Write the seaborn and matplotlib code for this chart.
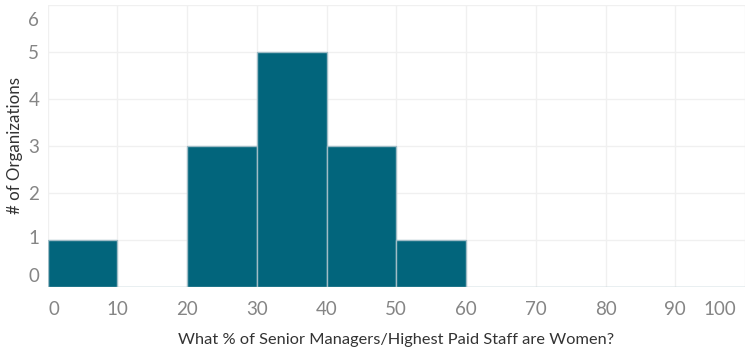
import numpy as np
import matplotlib
matplotlib.use('Agg')
import matplotlib.pyplot as plt
import matplotlib.transforms as mtransforms
import seaborn as sns

# histogram bins (% of senior managers who are women) and organization counts
bin_edges = [0, 10, 20, 30, 40, 50, 60, 70, 80, 90, 100]
counts = [1, 0, 3, 5, 3, 1, 0, 0, 0, 0]
x_ticks = [0, 10, 20, 30, 40, 50, 60, 70, 80, 90, 100]
y_ticks = [0, 1, 2, 3, 4, 5, 6]

bin_centers = [(a + b) / 2 for a, b in zip(bin_edges[:-1], bin_edges[1:])]

sns.set_style('white')
plt.rcParams['font.family'] = ['Lato', 'DejaVu Sans']

fig = plt.figure(figsize=(7.46, 3.52), dpi=100)
ax = fig.add_axes([47.5 / 746, 1 - 287 / 352, (745 - 47.5) / 746, (287 - 5) / 352])

sns.histplot(x=bin_centers, weights=counts, bins=bin_edges, ax=ax,
             color='#02657c', alpha=1, edgecolor='#9fbcc6', linewidth=1)

ax.set_xlim(0, 100)
ax.set_ylim(0, 6)
ax.set_xticks(x_ticks)
ax.set_yticks(y_ticks)
ax.set_axisbelow(True)
ax.grid(True, color='#f0f0f0', linewidth=1)
for s in ax.spines.values():
    s.set_visible(False)

ax.tick_params(axis='both', length=0, labelsize=13.5, labelcolor='#858585')
ax.tick_params(axis='x', pad=10)
ax.tick_params(axis='y', pad=6)

# nudge end labels inward like the original
xl = ax.get_xticklabels()
xl[0].set_transform(xl[0].get_transform() + mtransforms.ScaledTranslation(6 / 100, 0, fig.dpi_scale_trans))
xl[-1].set_transform(xl[-1].get_transform() + mtransforms.ScaledTranslation(-25 / 100, 0, fig.dpi_scale_trans))
yl = ax.get_yticklabels()
yl[0].set_transform(yl[0].get_transform() + mtransforms.ScaledTranslation(0, 12 / 100, fig.dpi_scale_trans))
yl[1].set_transform(yl[1].get_transform() + mtransforms.ScaledTranslation(0, 3 / 100, fig.dpi_scale_trans))
yl[-1].set_transform(yl[-1].get_transform() + mtransforms.ScaledTranslation(0, -14 / 100, fig.dpi_scale_trans))

ax.set_xlabel('What % of Senior Managers/Highest Paid Staff are Women?', fontsize=11.8, color='#333333', labelpad=11)
ax.set_ylabel('# of Organizations', fontsize=12.2, color='#333333', labelpad=4)

fig.savefig('out.png', dpi=100)
